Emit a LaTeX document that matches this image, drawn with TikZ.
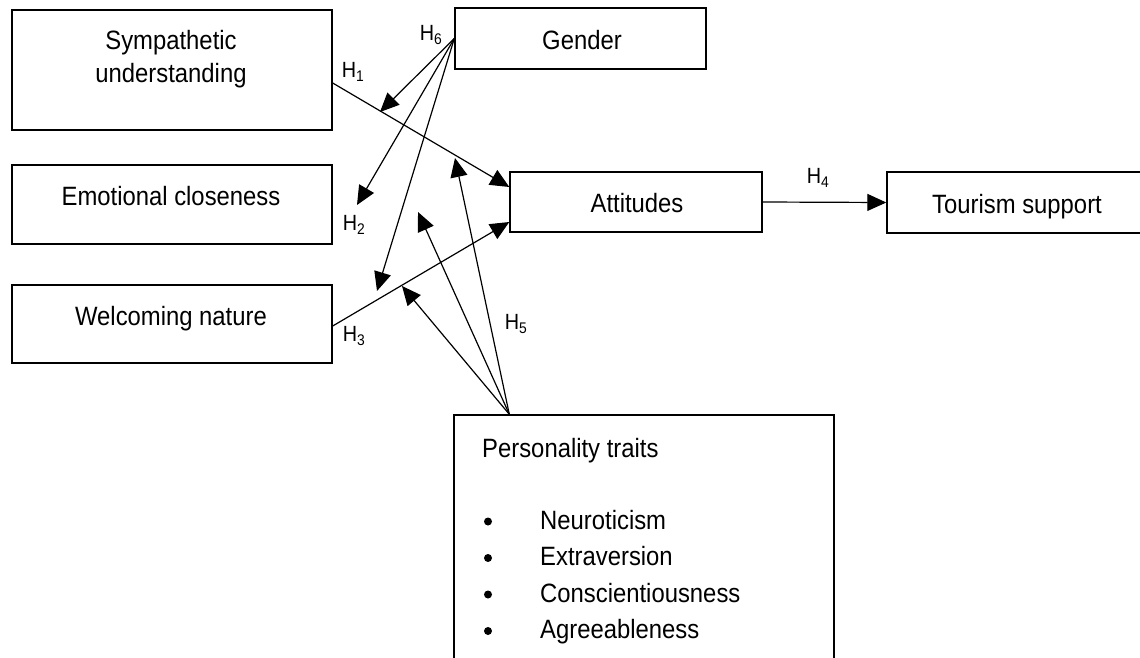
\documentclass[tikz,border=0pt]{standalone}
\usepackage{fontspec}
\setmainfont[FakeStretch=0.9]{Liberation Sans}
\usetikzlibrary{arrows.meta}
\begin{document}
\begin{tikzpicture}[x=1pt,y=-1pt,
  box/.style={draw,line width=1.4pt,rectangle,inner sep=0pt},
  txt/.style={font=\fontsize{26.5}{30}\selectfont,inner sep=0pt,anchor=base},
  hl/.style={font=\fontsize{22}{24}\selectfont,inner sep=0pt},
  con/.style={line width=1.2pt,-{Triangle[length=19pt,width=17pt]}}]
\useasboundingbox (0,0) rectangle (1140,658);
% boxes
\node[box,minimum width=320pt,minimum height=120pt] (sym) at (172,70) {};
\node[box,minimum width=320pt,minimum height=79pt] (emo) at (172,204.5) {};
\node[box,minimum width=320pt,minimum height=78pt] (wel) at (172,324) {};
\node[box,minimum width=251pt,minimum height=61pt] (gen) at (580.5,38.5) {};
\node[box,minimum width=252pt,minimum height=60pt] (att) at (636,202) {};
\node[box,minimum width=263pt,minimum height=61pt] (tour) at (1018.5,202.5) {};
\node[box,minimum width=380pt,minimum height=270pt] (pers) at (644,550) {};
% texts
\node[txt] (t1) at (171,50) {Sympathetic};
\node[txt] (t2) at (171,83) {understanding};
\node[txt] (t3) at (171,205) {Emotional closeness};
\node[txt] (t4) at (171,325) {Welcoming nature};
\node[txt] (t5) at (582,50) {Gender};
\node[txt] (t6) at (637,212) {Attitudes};
\node[txt] (t7) at (1017,213) {Tourism support};
\node[txt,anchor=base west] (p0) at (482,457) {Personality traits};
\node[txt,anchor=base west] (p1) at (540,529) {Neuroticism};
\node[txt,anchor=base west] (p2) at (540,565.5) {Extraversion};
\node[txt,anchor=base west] (p3) at (540,602) {Conscientiousness};
\node[txt,anchor=base west] (p4) at (540,638.5) {Agreeableness};
\foreach \yy in {529,565.5,602,638.5}{
  \fill (488,\yy-7.5) circle (4pt);
}
% labels
\node[hl] (h1) at (353,72) {H\textsubscript{1}};
\node[hl] (h2) at (354,225) {H\textsubscript{2}};
\node[hl] (h3) at (354,336) {H\textsubscript{3}};
\node[hl] (h4) at (818,178) {H\textsubscript{4}};
\node[hl] (h5) at (516,324) {H\textsubscript{5}};
\node[hl] (h6) at (431,35) {H\textsubscript{6}};
% free ends
\coordinate (g1) at (380,112);
\coordinate (g2) at (357,205);
\coordinate (g3) at (377,291);
\coordinate (q1) at (455,158);
\coordinate (q2) at (418,212);
\coordinate (q3) at (402,286);
\coordinate (po) at ([xshift=56pt]pers.north west);
% connectors
\draw[con] ([yshift=-13pt]sym.east) -- ([yshift=15pt]att.west);
\draw[con] ([yshift=-2pt]wel.east) -- ([yshift=-20pt]att.west);
\draw[con] (att.east) -- (tour.west);
\draw[con] (gen.west) -- (g1);
\draw[con] (gen.west) -- (g2);
\draw[con] (gen.west) -- (g3);
\draw[con] (po) -- (q1);
\draw[con] (po) -- (q2);
\draw[con] (po) -- (q3);
\end{tikzpicture}
\end{document}
